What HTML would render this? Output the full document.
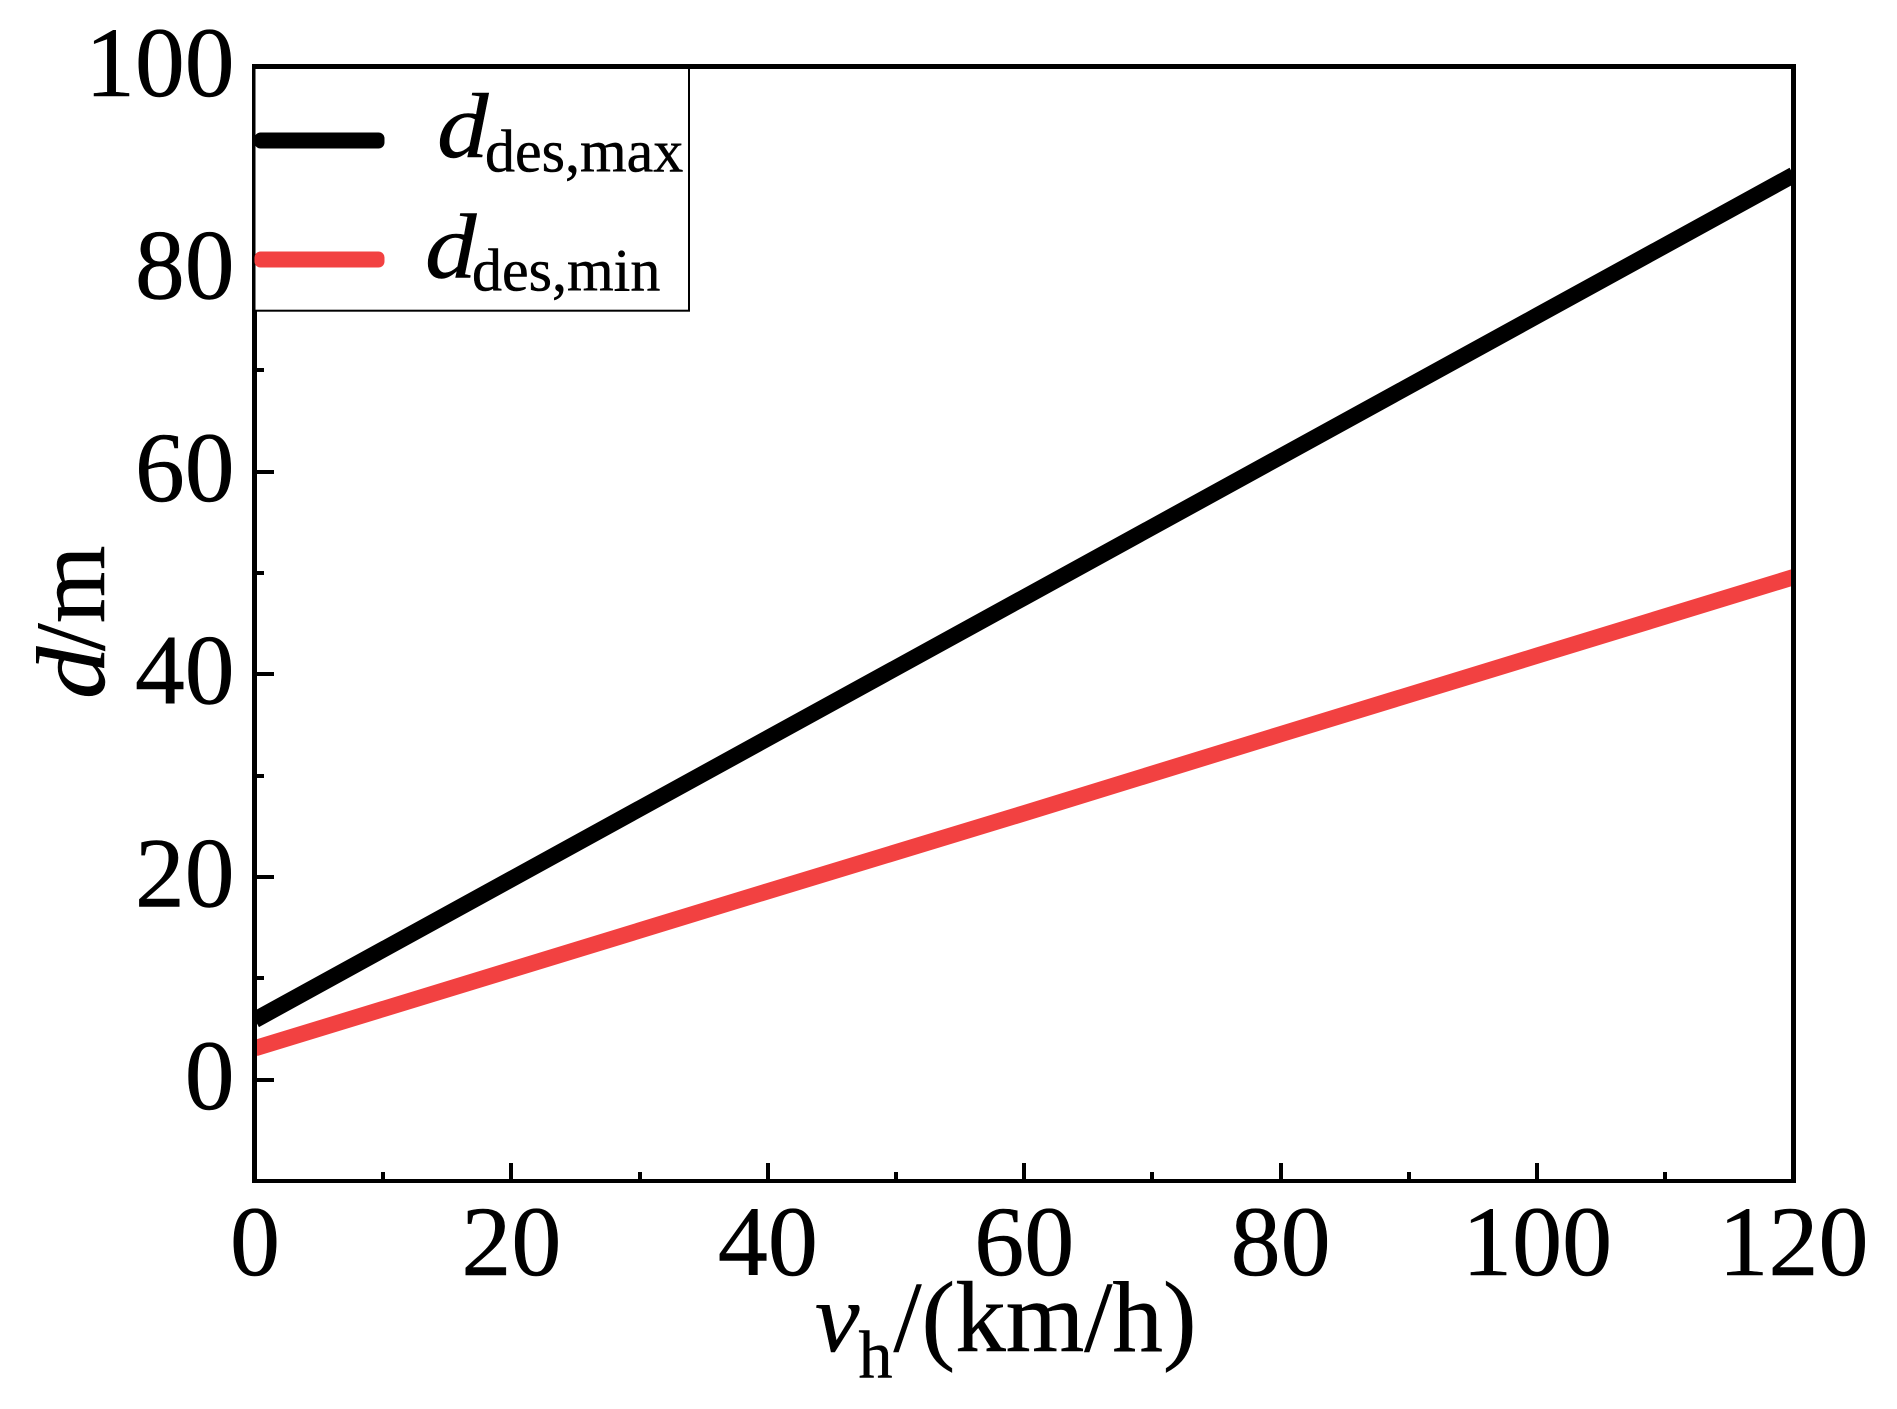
<!DOCTYPE html>
<html lang="en">
<head>
<meta charset="utf-8">
<title>Desired distance vs speed</title>
<style>
  html, body { margin: 0; padding: 0; background: #fff; width: 1897px; height: 1409px; overflow: hidden; }
  svg { display: block; font-family: "Liberation Serif", "Times New Roman", serif; fill: #000; }
  text { white-space: pre; stroke: #000; stroke-width: 0.5px; }
  .it { font-style: italic; }
</style>
</head>
<body>
<svg id="chart" xmlns="http://www.w3.org/2000/svg" width="1897" height="1409" viewBox="0 0 1897 1409">
  <defs>
    <clipPath id="plot-clip"><rect x="255" y="66.5" width="1538.5" height="1114.5"></rect></clipPath>
  </defs>
  <rect x="0" y="0" width="1897" height="1409" fill="#fff"></rect>
  <g id="series" clip-path="url(#plot-clip)"></g>
  <g id="axes"></g>

  <g>
    <rect x="254.5" y="68" width="434.5" height="242.7" fill="#fff" stroke="#000" stroke-width="2"></rect>
    <g>
      <rect x="254.5" y="132.5" width="130" height="16" rx="6" fill="#000"></rect>
      <text transform="translate(437 157) scale(1.12 1)" font-size="92" class="it">d</text>
      <text x="485" y="171.5" font-size="60">des,max</text>
    </g>
    <g>
      <rect x="254.5" y="251.5" width="130" height="16" rx="6" fill="#f24141"></rect>
      <text transform="translate(425 277.5) scale(1.12 1)" font-size="92" class="it">d</text>
      <text x="472" y="290.5" font-size="60">des,min</text>
    </g>
  </g>

  <g>
    <text x="815" y="1351" font-size="100" class="it">v</text>
    <text x="858.5" y="1377.7" font-size="68">h</text>
    <text x="893.5" y="1351" font-size="101">/(km/h)</text>
  </g>
  <g>
    <text transform="translate(104 699) rotate(-90) scale(1.08 1)" font-size="97" class="it">d</text>
    <text transform="translate(104 651) rotate(-90)" font-size="100">/m</text>
  </g>
</svg>

<script>
const categories = [0, 20, 40, 60, 80, 100, 120];
const seriesMax = [5.9, 19.8, 33.7, 47.6, 61.5, 75.4, 89.3];
const seriesMin = [3.1, 10.85, 18.6, 26.3, 34.1, 41.85, 49.6];
const xMajorTicks = [0, 20, 40, 60, 80, 100, 120];
const xMinorTicks = [10, 30, 50, 70, 90, 110];
const yMajorTicks = [0, 20, 40, 60, 80, 100];
const yMinorTicks = [10, 30, 50, 70, 90];
const xTickLabels = ['0', '20', '40', '60', '80', '100', '120'];
const yTickLabels = ['0', '20', '40', '60', '80', '100'];

const NS = 'http://www.w3.org/2000/svg';
const plotLeft = 255, plotRight = 1793.5, plotTop = 66.5, plotBottom = 1181;
const xDomain = [0, 120], yDomain = [-10, 100];
function xScale(v) {
  return plotLeft + (v - xDomain[0]) / (xDomain[1] - xDomain[0]) * (plotRight - plotLeft);
}
function yScale(v) {
  return plotBottom - (v - yDomain[0]) / (yDomain[1] - yDomain[0]) * (plotBottom - plotTop);
}
function svgEl(tag, props, parent) {
  const el = document.createElementNS(NS, tag);
  for (const k in props) el.setAttribute(k, props[k]);
  parent.appendChild(el);
  return el;
}

const seriesGroup = document.getElementById('series');
const axesGroup = document.getElementById('axes');

function pointsFor(values) {
  return categories.map(function (c, i) { return xScale(c) + ',' + yScale(values[i]); }).join(' ');
}
const lineMax = svgEl('polyline', { points: pointsFor(seriesMax), fill: 'none', stroke: '#000', 'stroke-width': 16.4 }, seriesGroup);


const lineMin = svgEl('polyline', { points: pointsFor(seriesMin), fill: 'none', stroke: '#f24141', 'stroke-width': 16.2 }, seriesGroup);



const spineLeft = svgEl('rect', { x: 252, y: 64, width: 5, height: 1119, 'shape-rendering': 'crispEdges' }, axesGroup);


const spineRight = svgEl('rect', { x: 1791, y: 64, width: 5, height: 1119, 'shape-rendering': 'crispEdges' }, axesGroup);


const spineTop = svgEl('rect', { x: 252, y: 64, width: 1544, height: 5, 'shape-rendering': 'crispEdges' }, axesGroup);


const spineBottom = svgEl('rect', { x: 252, y: 1179, width: 1544, height: 4, 'shape-rendering': 'crispEdges' }, axesGroup);



xMajorTicks.forEach(function (v, i) {
  const tick = svgEl('rect', { x: Math.round(xScale(v)) - 2, y: 1163, width: 4, height: 17, 'shape-rendering': 'crispEdges' }, axesGroup);
  
  
  const label = svgEl('text', { x: xScale(v), y: 1275, 'font-size': 100, 'text-anchor': 'middle' }, axesGroup);
  
  
  label.textContent = xTickLabels[i];
});
xMinorTicks.forEach(function (v) {
  const tick = svgEl('rect', { x: Math.round(xScale(v)) - 2, y: 1172, width: 4, height: 8, 'shape-rendering': 'crispEdges' }, axesGroup);
  
  
});
yMajorTicks.forEach(function (v, i) {
  const tick = svgEl('rect', { x: 255, y: Math.round(yScale(v)) - 2, width: 19, height: 4, 'shape-rendering': 'crispEdges' }, axesGroup);
  
  
  const label = svgEl('text', { x: 234.5, y: yScale(v) + 29.3, 'font-size': 99.5, 'text-anchor': 'end' }, axesGroup);
  
  
  label.textContent = yTickLabels[i];
});
yMinorTicks.forEach(function (v) {
  const tick = svgEl('rect', { x: 255, y: Math.round(yScale(v)) - 2, width: 9, height: 4, 'shape-rendering': 'crispEdges' }, axesGroup);
  
  
});
</script>
</body>
</html>
